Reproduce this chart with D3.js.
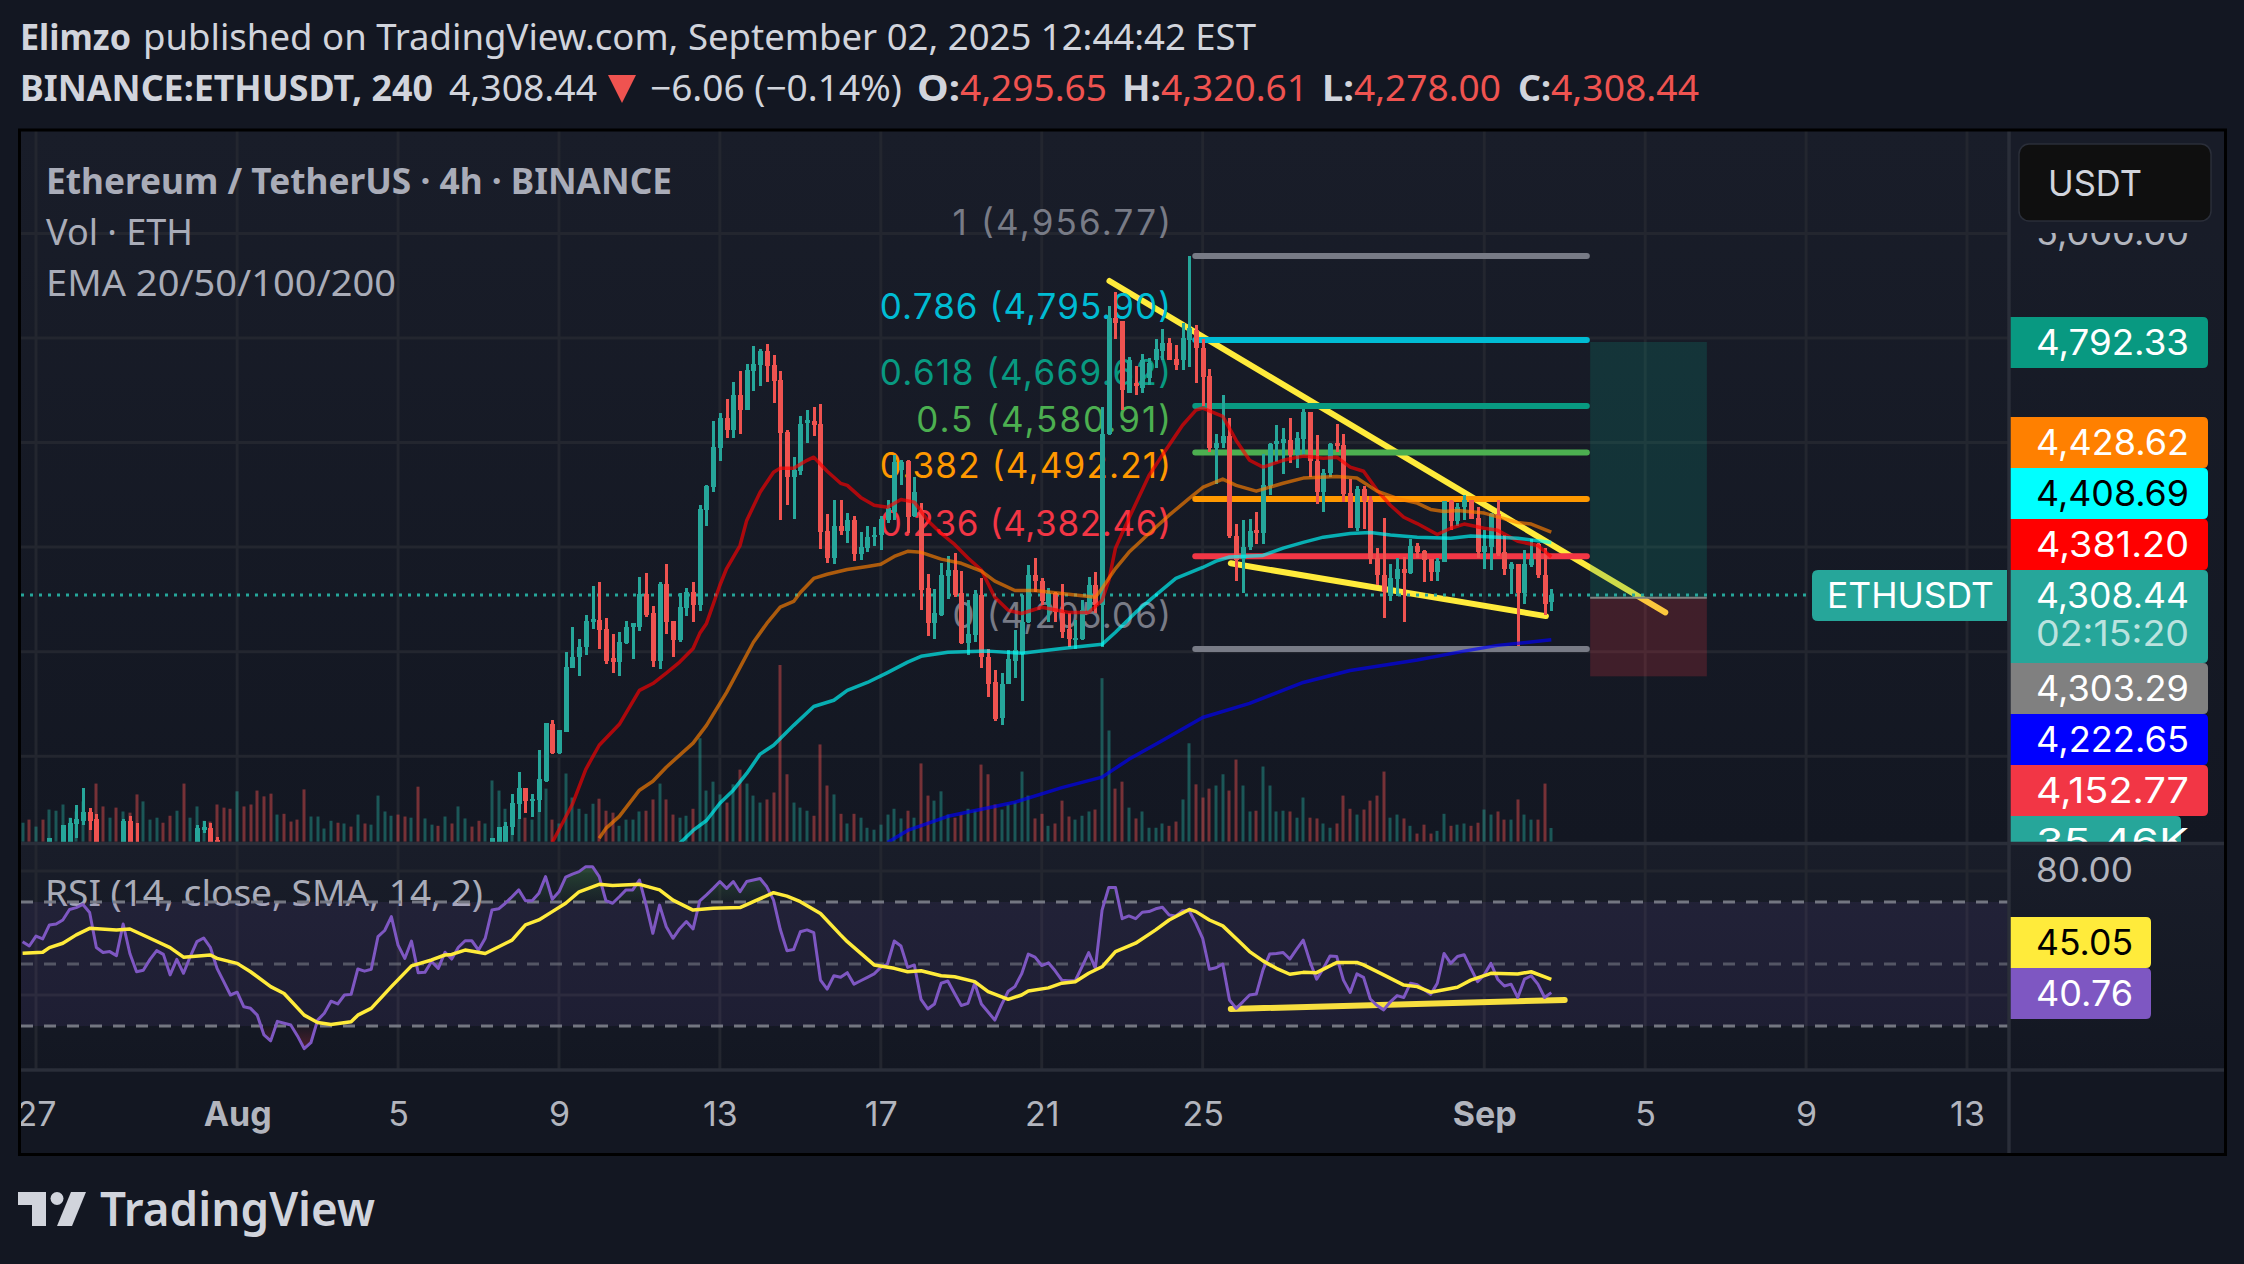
<!DOCTYPE html>
<html>
<head>
<meta charset="utf-8">
<script src="https://cdn.jsdelivr.net/npm/d3@7"></script>
<style>
  html, body { margin: 0; padding: 0; background: #131722; }
  svg { display: block; }
  text { font-family: "Noto Sans", sans-serif; }
</style>
</head>
<body>
<div id="chart"></div>
<script>
// bars are numbered from Jul 26 16:00 UTC, one every 4 hours
const barIndex = [4,6,7,8,9,10,11,15,16,17,26,27,28,29].concat(d3.range(70, 229));

const barOpen = [3828,3820,3824,3870,3877,3893,3879,3815,3877,3830,3800,3858,3862,3839,
  3800,3815,3835,3864,3908,3939,3914,3916,3952,4061,
  4007,4046,4168,4189,4208,4256,4260,4243,4187,4180,
  4216,4247,4248,4310,4273,4183,4329,4258,4222,4283,
  4315,4289,4470,4514,4589,4646,4623,4690,4662,4736,
  4748,4775,4748,4719,4620,4535,4545,4637,4641,4635,
  4430,4380,4440,4430,4451,4386,4398,4419,4423,4451,
  4467,4547,4564,4459,4470,4321,4254,4271,4344,4356,
  4313,4216,4231,4308,4189,4141,4074,4139,4183,4195,
  4256,4346,4336,4292,4312,4275,4243,4222,4224,4275,
  4327,4289,4616,4838,4832,4694,4713,4704,4723,4757,
  4776,4790,4759,4757,4797,4815,4780,4727,4589,4599,
  4612,4421,4377,4400,4432,4426,4516,4597,4600,4604,
  4577,4606,4658,4564,4505,4541,4599,4595,4503,4436,
  4511,4490,4379,4346,4306,4338,4359,4350,4402,4392,
  4377,4352,4371,4488,4449,4476,4490,4455,4390,4401,
  4463,4390,4359,4367,4312,4365,4405,4346,4295.65];
const barHigh = [3843,3868,3881,3906,3940,3900,3889,3879,3885,3873,3868,3877,3873,3845,
  3843,3864,3875,3927,3969,3939,3927,4011,4063,4070,
  4051,4199,4247,4225,4271,4325,4333,4264,4233,4237,
  4258,4254,4342,4350,4287,4333,4367,4258,4312,4321,
  4333,4480,4518,4641,4656,4683,4715,4736,4750,4784,
  4778,4788,4767,4736,4623,4572,4650,4662,4667,4673,
  4463,4491,4490,4465,4459,4428,4440,4438,4459,4491,
  4576,4566,4566,4535,4484,4348,4319,4369,4382,4388,
  4354,4298,4317,4340,4206,4164,4159,4203,4241,4308,
  4365,4379,4340,4321,4315,4329,4273,4260,4298,4342,
  4352,4667,4861,4887,4832,4763,4746,4769,4761,4798,
  4817,4799,4786,4828,4956.77,4824,4798,4740,4616,4690,
  4646,4445,4451,4453,4467,4579,4599,4633,4627,4646,
  4620,4664,4658,4614,4549,4600,4635,4616,4530,4516,
  4516,4497,4398,4455,4367,4379,4381,4415,4407,4394,
  4377,4379,4488,4491,4484,4499,4491,4476,4432,4465,
  4491,4424,4371,4367,4394,4415,4407,4398,4320.61];
const barLow = [3820,3810,3815,3843,3868,3858,3810,3805,3800,3780,3790,3854,3800,3800,
  3790,3805,3820,3850,3879,3891,3883,3893,3950,4005,
  4005,4046,4168,4153,4193,4243,4206,4176,4159,4153,
  4214,4185,4239,4266,4170,4166,4233,4189,4218,4268,
  4256,4277,4440,4505,4564,4608,4608,4616,4662,4698,
  4708,4715,4675,4451,4480,4453,4537,4599,4612,4396,
  4369,4367,4423,4407,4373,4375,4390,4403,4394,4447,
  4451,4518,4426,4457,4279,4229,4225,4269,4300,4304,
  4214,4193,4218,4168,4113,4067,4059,4139,4149,4105,
  4254,4315,4289,4256,4256,4227,4208,4206,4222,4273,
  4273,4208,4614,4798,4662,4694,4690,4694,4710,4742,
  4757,4757,4738,4738,4744,4713,4669,4581,4520,4589,
  4417,4335,4312,4394,4405,4405,4499,4562,4539,4560,
  4551,4576,4535,4482,4467,4535,4581,4486,4436,4430,
  4434,4367,4327,4264,4296,4306,4256,4348,4379,4333,
  4335,4335,4371,4432,4440,4451,4453,4379,4359,4357,
  4382,4346,4310,4210,4291,4361,4340,4271,4278];
const barClose = [3843,3868,3872,3879,3893,3877,3820,3877,3810,3790,3862,3864,3810,3810,
  3843,3864,3866,3910,3939,3914,3918,3956,4063,4007,
  4050,4170,4189,4208,4258,4262,4241,4183,4181,4218,
  4248,4254,4310,4271,4183,4329,4256,4222,4285,4315,
  4289,4472,4516,4591,4646,4623,4690,4662,4738,4750,
  4775,4746,4717,4618,4535,4547,4635,4643,4633,4428,
  4380,4440,4430,4451,4386,4400,4419,4424,4453,4474,
  4562,4562,4457,4505,4317,4254,4273,4346,4356,4308,
  4216,4233,4310,4189,4139,4071,4139,4185,4203,4256,
  4346,4335,4296,4312,4275,4237,4225,4227,4279,4327,
  4289,4616,4838,4828,4700,4757,4708,4757,4753,4778,
  4790,4757,4748,4799,4820,4780,4725,4589,4600,4612,
  4421,4375,4401,4430,4426,4518,4597,4602,4606,4577,
  4608,4658,4564,4505,4541,4597,4593,4501,4436,4511,
  4488,4377,4346,4315,4340,4359,4350,4402,4390,4375,
  4352,4373,4488,4449,4476,4490,4453,4390,4403,4463,
  4386,4359,4367,4312,4367,4377,4346,4292,4308.44];

// volume in thousands, one per bar from bar 0
const volumeK = [49,57,39,57,83,80,96,62,78,104,65,150,91,62,88,78,75,122,104,57,
  62,49,67,80,150,62,91,54,52,96,88,85,130,91,96,132,117,124,70,72,
  52,57,135,65,65,34,54,49,47,39,70,47,44,119,78,67,70,65,62,142,
  60,44,41,65,47,91,60,39,54,47,158,132,85,78,60,62,57,137,137,57,
  47,176,114,85,72,98,111,80,75,41,57,57,78,80,109,150,109,70,62,67,
  85,267,132,155,122,101,148,186,150,119,101,109,127,456,174,101,88,80,67,251,
  145,122,72,47,72,62,36,31,44,70,85,60,80,62,202,119,106,130,70,62,
  70,85,80,199,174,96,83,96,101,181,119,60,72,41,47,106,65,57,67,78,
  83,422,287,137,155,88,60,78,36,36,47,41,52,109,254,148,114,137,145,174,
  132,212,145,78,80,194,145,78,80,78,62,114,62,60,47,36,47,119,85,70,
  83,106,119,181,62,70,60,41,21,44,21,28,72,41,44,47,41,49,83,70,
  78,57,57,109,70,57,57,150,35.46];
// bars whose candle is off the pane but whose volume bar is red
const downVolumeBars = [1,3,12,14,21,22,24,30,31,33,34,35,36,37,39,40,41,42,47,49,51,56,57,59,62,64,67,68];

const ema20Bars = [79,82,84,86,89,92,94,96,98,100,101,102,104,105,107,108,110,112,113,115,117,118,120,122,123,125,127,129,131,133,135,137,139,141,143,145,147,149,152,156,159,161,162,163,165,168,170,173,175,176,179,181,183,185,188,191,194,196,198,200,202,204,206,208,211,213,215,218,220,223,226,228];
const ema20 = [3835,3908,3975,4021,4061,4126,4139,4159,4180,4206,4235,4254,4327,4359,4403,4451,4505,4543,4551,4551,4566,4572,4545,4522,4518,4495,4480,4476,4491,4486,4451,4426,4405,4379,4356,4304,4279,4273,4285,4275,4275,4298,4336,4398,4455,4537,4576,4633,4662,4666,4650,4604,4566,4553,4566,4574,4570,4572,4553,4545,4509,4480,4457,4445,4424,4436,4444,4436,4432,4411,4403,4381.2];
const ema50Bars = [86,87,89,92,94,96,100,102,105,107,109,111,113,115,116,118,120,123,126,128,130,132,134,137,140,143,145,148,151,156,160,161,163,165,168,171,174,176,179,181,184,188,191,196,199,202,205,208,210,212,214,218,223,225,228];
const ema50 = [3843,3862,3885,3935,3952,3979,4025,4059,4122,4170,4218,4254,4285,4296,4313,4340,4348,4357,4363,4367,4382,4392,4390,4377,4369,4354,4335,4317,4317,4310,4304,4321,4359,4390,4426,4461,4493,4514,4530,4518,4507,4522,4532,4535,4532,4507,4493,4484,4472,4468,4470,4465,4447,4444,4428.62];
const ema100Bars = [98,100,102,104,106,108,110,112,115,118,121,123,126,129,132,134,138,144,149,155,161,163,166,169,172,176,178,180,185,188,191,194,198,201,204,208,213,216,220,223,228];
const ema100 = [3833,3858,3877,3910,3935,3967,4004,4021,4059,4095,4107,4126,4141,4160,4180,4191,4199,4201,4197,4206,4214,4237,4275,4308,4340,4361,4373,4381,4384,4398,4409,4419,4426,4428,4423,4419,4417,4421,4419,4417,4408.69];
const ema200Bars = [129,132,138,148,155,161,165,170,176,183,191,198,208,215,220,228];
const ema200 = [3835,3858,3885,3912,3940,3960,3994,4030,4074,4101,4141,4164,4184,4201,4212,4222.65];

// RSI, one per bar from bar 0
const rsi = [57.2,55.8,59.0,58.1,62.6,62.9,64.2,67.6,68.2,69.2,66.6,55.3,53.7,54.0,52.7,62.9,53.4,47.5,48.0,51.5,
  54.3,53.1,46.5,51.5,47.0,52.4,57.2,58.4,55.4,48.6,44.3,40.0,40.9,36.2,35.7,33.5,27.1,25.2,31.5,30.9,
  30.3,26.8,22.7,24.6,31.9,34.1,38.0,37.1,40.0,40.2,48.4,47.7,48.3,58.8,60.8,65.3,56.1,51.8,57.4,47.2,
  47.3,50.8,48.6,53.8,51.6,55.4,57.5,57.5,54.5,58.3,67.4,67.8,69.6,71.7,73.9,70.4,70.4,72.8,78.2,70.9,
  73.3,78.0,79.0,79.8,81.4,81.4,78.2,70.4,69.6,71.7,73.9,73.9,77.1,69.0,59.9,69.0,62.0,58.3,61.4,63.7,
  61.3,70.4,72.3,74.4,76.6,74.4,76.6,73.3,76.6,77.1,77.6,74.9,70.6,61.2,54.3,54.7,60.4,61.0,60.1,44.8,
  41.9,46.2,45.7,47.2,43.5,44.6,45.7,46.8,48.9,50.0,57.4,55.8,48.9,49.7,38.6,35.5,37.1,43.8,44.5,40.5,
  36.6,37.3,43.8,37.1,34.5,31.9,36.8,41.2,42.7,46.8,53.2,52.2,49.5,50.4,47.8,44.8,44.6,44.6,49.1,53.7,
  48.6,67.4,74.7,74.7,64.6,65.5,64.6,66.7,66.9,67.8,68.3,65.8,65.5,67.2,67.2,63.1,58.3,48.3,48.8,50.0,
  38.4,35.7,37.8,40.0,40.3,48.1,53.2,53.4,53.7,51.6,54.7,57.7,50.8,45.1,48.6,52.6,52.4,44.8,40.8,46.8,
  45.7,38.7,36.6,35.2,37.8,39.8,39.2,43.8,43.3,41.8,40.2,43.8,53.4,50.2,52.4,53.0,48.6,44.3,46.5,50.2,
  45.1,42.9,43.5,39.2,45.1,46.2,43.5,39.2,40.76];
const rsiMaBars = [0,3,4,6,8,10,14,16,19,22,24,28,29,32,34,37,39,42,44,46,49,50,52,55,58,61,63,64,66,69,73,75,77,79,81,83,86,88,92,95,97,100,103,107,109,112,114,116,119,122,123,127,130,132,134,137,139,142,144,147,149,150,153,155,157,159,161,163,166,169,171,174,175,177,179,182,183,185,187,189,191,193,196,199,200,203,206,208,210,214,216,219,223,225,228];
const rsiMa = [53.5,53.8,55.3,56.7,59.4,61.5,61.0,61.3,58.3,55.3,52.2,52.9,51.8,50.2,47.5,42.7,40.5,33.5,31.1,30.5,31.4,33.5,35.7,42.7,49.4,51.3,52.9,53.1,54.5,53.4,57.7,62.6,64.2,66.9,69.6,73.3,75.7,75.3,75.7,73.9,70.6,67.4,68.0,68.2,70.1,73.0,71.9,70.1,66.3,59.4,57.2,49.7,48.6,47.5,47.8,46.2,45.9,44.3,41.1,38.6,40.0,41.3,42.3,43.8,44.3,47.0,49.1,54.0,56.7,61.0,64.2,67.6,66.9,64.2,62.3,56.1,54.0,51.0,48.6,46.7,47.3,47.2,50.5,50.5,49.7,46.5,43.2,42.7,40.9,42.5,44.8,47.0,46.8,47.5,45.05];

const timeTickDates = ["2025-07-27","2025-08-01","2025-08-05","2025-08-09","2025-08-13","2025-08-17","2025-08-21","2025-08-25","2025-09-01","2025-09-05","2025-09-09","2025-09-13"];
const timeTickLabels = ["27","Aug","5","9","13","17","21","25","Sep","5","9","13"];
const priceTicks = [5000,4800,4600,4400,4200,4000];
const rsiTicks = [80,40];
// the other scale labels sit behind the value badges
const priceLabelTicks = [5000];
const rsiLabelTicks = [80];

const fibRatios = ["1","0.786","0.618","0.5","0.382","0.236","0"];
const fibPrices = [4956.77,4795.90,4669.62,4580.91,4492.21,4382.46,4205.06];
const fibColors = ["#787b86","#00bcd4","#089981","#4caf50","#ff9800","#f23645","#787b86"];

const priceBadges = ["4,792.33","4,428.62","4,408.69","4,381.20","4,308.44","4,303.29","4,222.65","4,152.77"];
const priceBadgeColors = ["#089981","#ff8000","#00ffff","#ff0000","#26a69a","#808080","#0000ff","#f23645"];
const rsiBadges = ["45.05","40.76"];
const rsiBadgeColors = ["#ffeb3b","#7e57c2"];

const lastPrice = 4308.44, entryPrice = 4303.29, targetPrice = 4792.33, stopPrice = 4152.77;
const positionBars = [233.8, 251.2];
const fallingLine = [[162.1,4909],[245,4275]];
const lowerLine = [[180.2,4369],[227.2,4268]];
const rsiLine = [[180.2,35.5],[230,38.4]];

// layout of the picture
let config = {
  svg: {width: 2244, height: 1264},
  left: 21, right: 2009, edge: 2225,
  main: {top: 131, bottom: 843},
  rsi: {top: 845, bottom: 1070},
  axisBottom: 1153
};
const up = "#26a69a", down = "#ef5350", textGrey = "#b2b5be", gridColor = "#23262f";

const x = d3.scaleUtc()
  .domain([new Date("2025-07-27T00:00Z"), new Date("2025-09-13T00:00Z")])
  .range([36, 1967]);
const firstBar = new Date("2025-07-26T16:00Z").getTime();
function barX(i) { return x(new Date(firstBar + i * 4 * 3600 * 1000)); }

const y = d3.scaleLinear().domain([4205.06, 4956.77]).range([649, 256]);
const yVol = d3.scaleLinear().domain([0, 456]).range([841.7, 665]);
const yRsi = d3.scaleLinear().domain([30, 70]).range([1026, 902]);

const svg = d3.select("#chart").append("svg")
  .attr("width", config.svg.width)
  .attr("height", config.svg.height)
  .style("background", "#131722");
const defs = svg.append("defs");

function addGradient(id, y1, y2, stops) {
  const g = defs.append("linearGradient").attr("id", id)
    .attr("gradientUnits", "userSpaceOnUse")
    .attr("x1", 0).attr("x2", 0).attr("y1", y1).attr("y2", y2);
  stops.forEach(s => g.append("stop").attr("offset", s[0]).attr("stop-color", s[1]).attr("stop-opacity", s[2]));
}
addGradient("mainBg", config.main.top, config.main.bottom, [[0, "#191d29", 1], [1, "#131722", 1]]);
addGradient("rsiBg", config.rsi.top, config.rsi.bottom, [[0, "#191d29", 1], [1, "#131722", 1]]);
addGradient("overFill", yRsi(85), yRsi(70), [[0, "#4caf50", 0.35], [1, "#4caf50", 0.03]]);
addGradient("underFill", yRsi(30), yRsi(20), [[0, "#f23645", 0.03], [1, "#f23645", 0.35]]);

function clip(id, x0, y0, w, h) {
  defs.append("clipPath").attr("id", id).append("rect").attr("x", x0).attr("y", y0).attr("width", w).attr("height", h);
}
clip("mainClip", config.left, config.main.top, config.right - config.left, config.main.bottom - config.main.top);
clip("rsiClip", config.left, config.rsi.top, config.right - config.left, config.rsi.bottom - config.rsi.top);
clip("axisClip", config.left, config.rsi.bottom, config.right - config.left, config.axisBottom - config.rsi.bottom);
clip("badgeClip", config.right, config.main.top, config.edge - config.right, config.main.bottom - config.main.top);

// backgrounds
svg.append("rect").attr("x", config.left).attr("y", config.main.top)
  .attr("width", config.edge - config.left).attr("height", config.main.bottom - config.main.top).attr("fill", "url(#mainBg)");
svg.append("rect").attr("x", config.left).attr("y", config.rsi.top)
  .attr("width", config.edge - config.left).attr("height", config.rsi.bottom - config.rsi.top).attr("fill", "url(#rsiBg)");

// text squeezed to the measured width
function fitText(g, str, x1, x2, yc, size, color, weight) {
  return g.append("text").text(str)
    .attr("x", x1).attr("y", yc).attr("dy", "0.35em")
    .attr("textLength", x2 - x1).attr("lengthAdjust", "spacingAndGlyphs")
    .attr("font-size", size).attr("font-weight", weight || 400).attr("fill", color);
}

// header
const head = svg.append("g");
fitText(head, "Elimzo", 20, 131, 37, 36, "#d1d4dc", 700);
fitText(head, "published on TradingView.com, September 02, 2025 12:44:42 EST", 143, 1256, 37, 36, "#d1d4dc");
fitText(head, "BINANCE:ETHUSDT, 240", 20, 433, 88, 36, "#d1d4dc", 700);
fitText(head, "4,308.44", 449, 597, 88, 36, "#d1d4dc");
head.append("path").attr("d", d3.line()([[608, 75], [636, 75], [622, 103]])).attr("fill", down);
fitText(head, "−6.06 (−0.14%)", 650, 902, 88, 36, "#d1d4dc");
[["O:", 917, 960, "4,295.65", 1107], ["H:", 1122, 1161, "4,320.61", 1308],
 ["L:", 1322, 1354, "4,278.00", 1501], ["C:", 1518, 1551, "4,308.44", 1699]].forEach(d => {
  fitText(head, d[0], d[1], d[2], 88, 36, "#d1d4dc", 700);
  fitText(head, d[3], d[2], d[4], 88, 36, down);
});

// grid
const timeDates = timeTickDates.map(d => new Date(d + "T00:00Z"));
const gridV = svg.append("g").attr("stroke", gridColor).attr("stroke-width", 3);
gridV.selectAll("line").data(timeDates).enter().append("line")
  .attr("x1", d => x(d)).attr("x2", d => x(d))
  .attr("y1", config.main.top).attr("y2", config.rsi.bottom);
const gridH = svg.append("g").attr("stroke", gridColor).attr("stroke-width", 3);
gridH.selectAll(".p").data(priceTicks).enter().append("line").attr("class", "p")
  .attr("x1", config.left).attr("x2", config.right).attr("y1", d => y(d)).attr("y2", d => y(d));
gridH.selectAll(".r").data(rsiTicks).enter().append("line").attr("class", "r")
  .attr("x1", config.left).attr("x2", config.right).attr("y1", d => yRsi(d)).attr("y2", d => yRsi(d));

const main = svg.append("g").attr("clip-path", "url(#mainClip)");

// drawings sit under the candles
const lineGen = d3.line().x(d => barX(d[0])).y(d => y(d[1]));
[fallingLine, lowerLine].forEach(l => {
  main.append("path").attr("d", lineGen(l)).attr("fill", "none")
    .attr("stroke", "#ffeb3b").attr("stroke-width", 6).attr("stroke-linecap", "round");
});

const fibX = [barX(174.9), barX(233.3)];
main.selectAll(".fib").data(fibPrices).enter().append("line").attr("class", "fib")
  .attr("x1", fibX[0]).attr("x2", fibX[1])
  .attr("y1", d => y(d)).attr("y2", d => y(d))
  .attr("stroke", (d, i) => fibColors[i]).attr("stroke-width", 6).attr("stroke-linecap", "round");
const fibLabel = (d, i) => fibRatios[i] + " (" + d3.format(",.2f")(d) + ")";
main.selectAll(".fibText").data(fibPrices).enter().append("text").attr("class", "fibText")
  .attr("x", (d, i) => 1171 - 18.2 * fibLabel(d, i).length).attr("y", d => y(d) - 33).attr("dy", "0.35em")
  .attr("textLength", (d, i) => 18.2 * fibLabel(d, i).length).attr("lengthAdjust", "spacing")
  .attr("font-size", 35).style("font-family", "Inter, sans-serif")
  .attr("fill", (d, i) => fibColors[i])
  .text(fibLabel);

// long position box
const posX0 = barX(positionBars[0]), posX1 = barX(positionBars[1]);
main.append("rect").attr("x", posX0).attr("width", posX1 - posX0)
  .attr("y", y(targetPrice)).attr("height", y(entryPrice) - y(targetPrice)).attr("fill", "#089981").attr("fill-opacity", 0.2);
main.append("rect").attr("x", posX0).attr("width", posX1 - posX0)
  .attr("y", y(entryPrice)).attr("height", y(stopPrice) - y(entryPrice)).attr("fill", "#f23645").attr("fill-opacity", 0.2);
main.append("line").attr("x1", posX0).attr("x2", posX1).attr("y1", y(entryPrice)).attr("y2", y(entryPrice))
  .attr("stroke", "#808080").attr("stroke-width", 2);

// last price line
main.append("line").attr("x1", config.left).attr("x2", 1812).attr("y1", y(lastPrice)).attr("y2", y(lastPrice))
  .attr("stroke", up).attr("stroke-width", 3).attr("stroke-dasharray", "3 6");

// volume
const barDir = {};
barIndex.forEach((b, k) => { barDir[b] = barClose[k] >= barOpen[k]; });
downVolumeBars.forEach(b => { barDir[b] = false; });
main.selectAll(".vol").data(volumeK).enter().append("rect").attr("class", "vol")
  .attr("x", (d, i) => Math.round(barX(i)) - 1.5).attr("width", 3)
  .attr("y", d => yVol(d)).attr("height", d => yVol(0) - yVol(d))
  .attr("fill", (d, i) => barDir[i] === false ? down : up).attr("fill-opacity", 0.45);

// candles
const candles = main.selectAll(".candle").data(barIndex).enter().append("g").attr("class", "candle")
  .attr("shape-rendering", "crispEdges")
  .attr("fill", (b, k) => barClose[k] >= barOpen[k] ? up : down);
candles.append("rect")
  .attr("x", b => Math.round(barX(b)) - 1.5).attr("width", 3)
  .attr("y", (b, k) => y(barHigh[k])).attr("height", (b, k) => y(barLow[k]) - y(barHigh[k]));
candles.append("rect")
  .attr("x", b => Math.round(barX(b)) - 2.5).attr("width", 5)
  .attr("y", (b, k) => y(Math.max(barOpen[k], barClose[k])))
  .attr("height", (b, k) => Math.max(2, Math.abs(y(barOpen[k]) - y(barClose[k]))));

// EMAs
[[ema20Bars, ema20, "#ff0000"], [ema50Bars, ema50, "#ff8000"], [ema100Bars, ema100, "#00ffff"], [ema200Bars, ema200, "#0000ff"]].forEach(e => {
  const pts = e[0].map((b, k) => [b, e[1][k]]);
  main.append("path").attr("d", lineGen(pts)).attr("fill", "none")
    .attr("stroke", e[2]).attr("stroke-opacity", 0.65).attr("stroke-width", 3.5).attr("stroke-linejoin", "round");
});

// pane legend
const legend = svg.append("g");
fitText(legend, "Ethereum / TetherUS · 4h · BINANCE", 46, 672, 181, 36, "#a9acb8", 700);
fitText(legend, "Vol · ETH", 46, 193, 232, 36, "#a9acb8");
fitText(legend, "EMA 20/50/100/200", 46, 396, 283, 36, "#a9acb8");

// RSI pane
const rsiPane = svg.append("g").attr("clip-path", "url(#rsiClip)");
rsiPane.append("rect").attr("x", config.left).attr("width", config.right - config.left)
  .attr("y", yRsi(70)).attr("height", yRsi(30) - yRsi(70)).attr("fill", "#7e57c2").attr("fill-opacity", 0.1);
[[70, "#787b86", 0.95], [50, "#787b86", 0.6], [30, "#787b86", 0.95]].forEach(l => {
  rsiPane.append("line").attr("x1", config.left).attr("x2", config.right)
    .attr("y1", yRsi(l[0])).attr("y2", yRsi(l[0]))
    .attr("stroke", l[1]).attr("stroke-opacity", l[2]).attr("stroke-width", 3).attr("stroke-dasharray", "12 11");
});
rsiPane.append("path").datum(rsi).attr("fill", "url(#overFill)")
  .attr("d", d3.area().x((d, i) => barX(i)).y0(yRsi(70)).y1(d => yRsi(Math.max(d, 70))));
rsiPane.append("path").datum(rsi).attr("fill", "url(#underFill)")
  .attr("d", d3.area().x((d, i) => barX(i)).y0(yRsi(30)).y1(d => yRsi(Math.min(d, 30))));
const rsiLineGen = d3.line().x(d => barX(d[0])).y(d => yRsi(d[1]));
rsiPane.append("path").attr("d", rsiLineGen(rsiLine)).attr("fill", "none")
  .attr("stroke", "#f7df3f").attr("stroke-width", 6).attr("stroke-linecap", "round");
rsiPane.append("path").datum(rsi).attr("fill", "none").attr("stroke", "#7e57c2").attr("stroke-width", 3)
  .attr("stroke-linejoin", "round")
  .attr("d", d3.line().x((d, i) => barX(i)).y(d => yRsi(d)));
rsiPane.append("path").attr("fill", "none").attr("stroke", "#ffeb3b").attr("stroke-width", 3.5)
  .attr("stroke-linejoin", "round")
  .attr("d", rsiLineGen(rsiMaBars.map((b, k) => [b, rsiMa[k]])));
fitText(legend, "RSI (14, close, SMA, 14, 2)", 45, 483, 893, 36, "#a9acb8");

// axes
const axisFont = "Inter, sans-serif";
function styleAxis(g) {
  g.select(".domain").remove();
  g.selectAll(".tick line").remove();
  g.selectAll(".tick text").attr("fill", textGrey).style("font-family", axisFont).attr("font-size", 34);
}
const priceAxis = d3.axisRight(y).tickValues(priceLabelTicks).tickFormat(d3.format(",.2f"));
const priceAxisClip = svg.append("g").attr("clip-path", "url(#badgeClip)");
priceAxisClip.append("g").attr("transform", "translate(2009,0)")
  .call(priceAxis).call(styleAxis)
  .selectAll("text").attr("x", 27).attr("textLength", 153).attr("lengthAdjust", "spacingAndGlyphs");
svg.append("rect").attr("x", config.right + 2).attr("y", config.main.top)
  .attr("width", config.edge - config.right - 2).attr("height", 233 - config.main.top).attr("fill", "#181c28");
const rsiAxis = d3.axisRight(yRsi).tickValues(rsiLabelTicks).tickFormat(d3.format(".2f"));
svg.append("g").attr("transform", "translate(2009,0)")
  .call(rsiAxis).call(styleAxis)
  .selectAll("text").attr("x", 27).attr("textLength", 97).attr("lengthAdjust", "spacingAndGlyphs");

const timeAxis = d3.axisBottom(x).tickValues(timeDates).tickFormat((d, i) => timeTickLabels[i]);
const timeAxisClip = svg.append("g").attr("clip-path", "url(#axisClip)");
timeAxisClip.append("g").attr("transform", "translate(0,1114)")
  .call(timeAxis).call(styleAxis)
  .selectAll("text").attr("y", 0).attr("dy", "0.35em")
  .attr("font-weight", (d, i) => (timeTickLabels[i] === "Aug" || timeTickLabels[i] === "Sep") ? 700 : 400);

// right-hand value badges, stacked down from the top one
function badge(g, x0, y0, w, h, color, str, textColor) {
  g.append("path").attr("fill", color)
    .attr("d", "M" + x0 + "," + y0 + "h" + (w - 5) + "q5,0 5,5v" + (h - 10) + "q0,5 -5,5h" + (5 - w) + "z");
  if (str) {
    g.append("text").text(str).attr("x", x0 + 26).attr("y", y0 + 25.5).attr("dy", "0.35em")
      .attr("textLength", 153).attr("lengthAdjust", "spacingAndGlyphs")
      .attr("font-size", 35).style("font-family", axisFont).attr("fill", textColor);
  }
}
const badges = svg.append("g").attr("clip-path", "url(#badgeClip)");
badge(badges, 2010, 317, 198, 51, priceBadgeColors[0], priceBadges[0], "#fff");
let badgeY = 417;
priceBadges.slice(1).forEach((d, i) => {
  const isLast = d === "4,308.44";
  const h = isLast ? 93 : 51;
  badge(badges, 2010, badgeY, 198, h, priceBadgeColors[i + 1], d, d === "4,408.69" ? "#000" : "#fff");
  if (isLast) {
    badges.append("text").text("02:15:20").attr("x", 2036).attr("y", 634).attr("dy", "0.35em")
      .attr("textLength", 153).attr("lengthAdjust", "spacingAndGlyphs")
      .attr("font-size", 35).style("font-family", axisFont).attr("fill", "#fff").attr("fill-opacity", 0.7);
  }
  badgeY += h;
});
badge(badges, 2010, 816, 171, 51, "#26a69a", "35.46K", "#fff");

// symbol label left of the axis
svg.append("path").attr("fill", "#26a69a").attr("d", "M1818,570h189v51h-189q-6,0 -6,-6v-39q0,-6 6,-6z");
svg.append("text").text("ETHUSDT").attr("x", 1827).attr("y", 595.5).attr("dy", "0.35em")
  .attr("textLength", 167).attr("lengthAdjust", "spacingAndGlyphs")
  .attr("font-size", 35).style("font-family", axisFont).attr("fill", "#fff");

rsiBadges.forEach((d, i) => {
  badge(svg, 2010, 917 + i * 51, 141, 51, rsiBadgeColors[i], null);
  svg.append("text").text(d).attr("x", 2036).attr("y", 942.5 + i * 51).attr("dy", "0.35em")
    .attr("textLength", 97).attr("lengthAdjust", "spacingAndGlyphs")
    .attr("font-size", 35).style("font-family", axisFont).attr("fill", i === 0 ? "#000" : "#fff");
});

// USDT box
svg.append("rect").attr("x", 2019).attr("y", 144).attr("width", 192).attr("height", 77).attr("rx", 10)
  .attr("fill", "#0f0f0f").attr("stroke", "#2a2e39").attr("stroke-width", 1.5);
svg.append("text").text("USDT").attr("x", 2048).attr("y", 184).attr("dy", "0.35em")
  .attr("textLength", 94).attr("lengthAdjust", "spacingAndGlyphs")
  .attr("font-size", 35).style("font-family", axisFont).attr("fill", "#d1d4dc");

// pane separators and frame
const sep = svg.append("g").attr("stroke", "#2a2e39").attr("stroke-width", 3.5);
sep.append("line").attr("x1", config.left).attr("x2", config.edge).attr("y1", 843.5).attr("y2", 843.5);
sep.append("line").attr("x1", config.left).attr("x2", config.edge).attr("y1", 1070).attr("y2", 1070);
sep.append("line").attr("x1", config.right).attr("x2", config.right).attr("y1", config.main.top).attr("y2", config.axisBottom);
svg.append("rect").attr("x", 19.5).attr("y", 130).attr("width", 2206).attr("height", 1024.5)
  .attr("fill", "none").attr("stroke", "#000").attr("stroke-width", 3);

// TradingView mark
const logo = svg.append("g").attr("fill", "#d1d4dc");
logo.append("path").attr("d", "M18,1192h28v34h-14v-21h-14z");
logo.append("circle").attr("cx", 57).attr("cy", 1198.5).attr("r", 6.5);
logo.append("path").attr("d", "M71,1192h15l-14,34h-15z");
svg.append("text").text("TradingView").attr("x", 100).attr("y", 1226)
  .attr("textLength", 275).attr("lengthAdjust", "spacingAndGlyphs")
  .attr("font-size", 46).attr("font-weight", 600).attr("fill", "#d1d4dc");
</script>
</body>
</html>
